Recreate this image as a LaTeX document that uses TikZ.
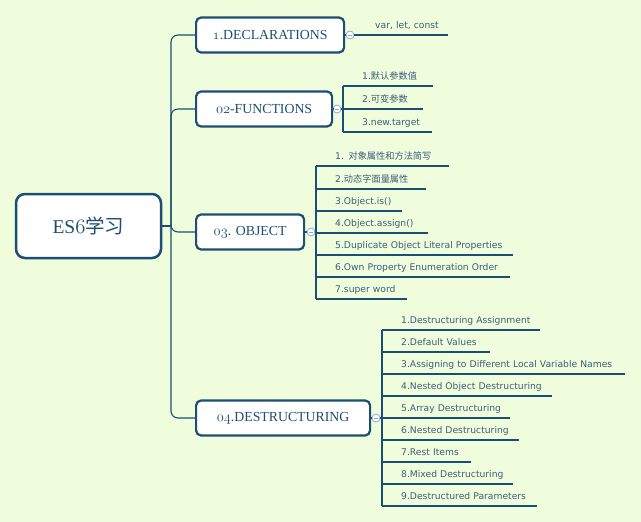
\documentclass[tikz,border=0pt]{standalone}
\usepackage{fontspec}
\setmainfont{Liberation Serif}
\newfontfamily\leaffont{DejaVu Sans}
\newfontfamily\cjk{Noto Sans CJK SC}
\newcommand\osn[1]{{\usefont{OML}{lmm}{m}{it}#1}}
\definecolor{bgc}{HTML}{EFFDDD}
\definecolor{boxc}{HTML}{1C4E73}
\definecolor{leafc}{HTML}{3D5D7A}
\definecolor{knobc}{HTML}{93A6DA}
\tikzset{
  box/.style={draw=boxc, line width=2.2pt, rounded corners=5pt, fill=white, text=boxc,
    anchor=west, minimum height=35, inner sep=0, font=\fontsize{13.8}{16}\selectfont},
  ln/.style={draw=boxc, line width=1.1pt},
  knob/.style={circle, draw=knobc, fill=white, line width=0.8pt, minimum size=8, inner sep=0,
    path picture={\draw[knobc, line width=0.8pt] ([xshift=2pt]path picture bounding box.west)
      -- ([xshift=-2pt]path picture bounding box.east);}},
  leaf/.style={anchor=south west, inner sep=0, text width=#1pt, text height=8pt, text depth=6pt,
    text=leafc, font=\leaffont\fontsize{9.2}{11}\selectfont, execute at begin node={\hspace*{19pt}},
    append after command={(\tikzlastnode.south west) edge[ln] (\tikzlastnode.south east)}},
}
\begin{document}
\begin{tikzpicture}[x=1pt, y=-1pt]
    \path[use as bounding box, fill=bgc] (0,0) rectangle (641,522);
    % root and main branches
    \node[box, anchor=center, minimum width=145, minimum height=64, rounded corners=9pt,
          line width=2.5pt, font=\fontsize{19.5}{22}\selectfont] (root) at (88.5,226) {ES\osn{6}{\cjk 学习}};
    \node[box, minimum width=148] (d1) at (195, 35) {\osn{1}.DECLARATIONS};
    \node[box, minimum width=136] (d2) at (195,109) {\osn{02}-FUNCTIONS};
    \node[box, minimum width=108] (d3) at (195,232) {\osn{03}. OBJECT};
    \node[box, minimum width=174] (d4) at (195,418) {\osn{04}.DESTRUCTURING};
    \coordinate (hub) at (171,226);
    \draw[ln]                    (root.east) -- (hub);
    \draw[ln, rounded corners=7pt] (d1.west) -| (hub) |- (d4.west);
    \draw[ln, rounded corners=7pt] (hub) |- (d2.west);
    \draw[ln, rounded corners=7pt] (hub) |- (d3.west);
    % collapse knobs
    \node[knob] (c1) at (350, 35) {};
    \node[knob] (c2) at (337,109) {};
    \node[knob] (c3) at (311,232) {};
    \node[knob] (c4) at (376,418) {};
    \draw[ln] (d1.east) -- (c1.west);
    \draw[ln] (d2.east) -- (c2.west);
    \draw[ln] (d3.east) -- (c3.west);
    \draw[ln] (d4.east) -- (c4.west);
    % 1.DECLARATIONS
    \node[leaf=92] (v1) at (356, 35) {var, let, const};
    \draw[ln] (c1.east) -- (v1.south west);
    % 02-FUNCTIONS
    \node[leaf=90] (f1) at (343, 86) {1.{\cjk 默认参数值}};
    \node[leaf=80] (f2) at (343,109) {2.{\cjk 可变参数}};
    \node[leaf=89] (f3) at (343,132) {3.new.target};
    \draw[ln] (f1.south west) -- (f3.south west);
    \draw[ln] (c2.east) -- (c2.east -| f1.south west);
    % 03. OBJECT
    \node[leaf=133] (o1) at (316,166) {1. {\cjk 对象属性和方法简写}};
    \node[leaf=110] (o2) at (316,189) {2.{\cjk 动态字面量属性}};
    \node[leaf=86]  (o3) at (316,211) {3.Object.is()};
    \node[leaf=112] (o4) at (316,233) {4.Object.assign()};
    \node[leaf=197] (o5) at (316,255) {5.Duplicate Object Literal Properties};
    \node[leaf=194] (o6) at (316,277) {6.Own Property Enumeration Order};
    \node[leaf=91]  (o7) at (316,299) {7.super word};
    \draw[ln] (o1.south west) -- (o7.south west);
    \draw[ln] (c3.east) -- (c3.east -| o1.south west);
    % 04.DESTRUCTURING
    \node[leaf=158] (e1) at (382,330) {1.Destructuring Assignment};
    \node[leaf=108] (e2) at (382,352) {2.Default Values};
    \node[leaf=243] (e3) at (382,374) {3.Assigning to Different Local Variable Names};
    \node[leaf=170] (e4) at (382,396) {4.Nested Object Destructuring};
    \node[leaf=128] (e5) at (382,418) {5.Array Destructuring};
    \node[leaf=137] (e6) at (382,440) {6.Nested Destructuring};
    \node[leaf=89]  (e7) at (382,462) {7.Rest Items};
    \node[leaf=131] (e8) at (382,484) {8.Mixed Destructuring};
    \node[leaf=155] (e9) at (382,506) {9.Destructured Parameters};
    \draw[ln] (e1.south west) -- (e9.south west);
    \draw[ln] (c4.east) -- (c4.east -| e1.south west);
\end{tikzpicture}
\end{document}
